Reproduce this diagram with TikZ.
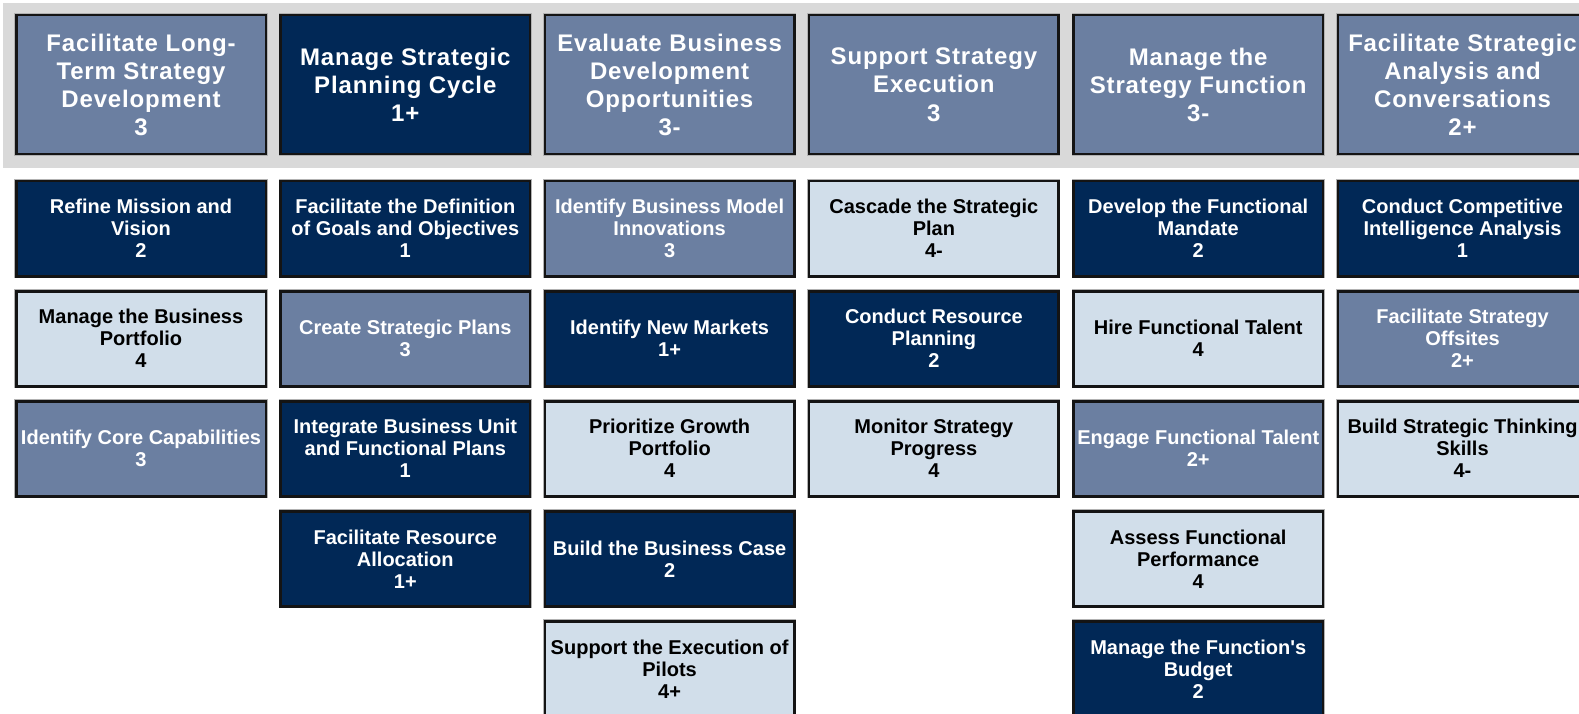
\documentclass[tikz,border=0pt]{standalone}
\usepackage{fontspec}
\setmainfont{Liberation Sans}
\newfontfamily\headfont{Liberation Sans}[LetterSpace=3.5]
\definecolor{navy}{HTML}{012856}
\definecolor{slate}{HTML}{6B7FA1}
\definecolor{pale}{HTML}{D1DEEA}
\definecolor{band}{HTML}{D9D9D9}
\tikzset{
  box/.style={rectangle, inner sep=0pt, align=center,
    minimum width=249.5pt, minimum height=95pt,
    draw=black!92, line width=2.5pt,
    preaction={draw=black!30, line width=3.6pt},
    font=\fontsize{20}{22}\selectfont\bfseries},
  head/.style={box, minimum height=139pt,
    font=\headfont\fontsize{24}{28.2}\selectfont\bfseries},
  dk/.style={fill=navy, text=white},
  md/.style={fill=slate, text=white},
  lt/.style={fill=pale, text=black},
}
\begin{document}
\begin{tikzpicture}[x=1pt, y=-1pt]
\useasboundingbox (0,0) rectangle (1579,714);
\clip (0,0) rectangle (1579,714);
\fill[white] (0,0) rectangle (1579,714);
% grey strip behind the column headings
\fill[band] (3.3,3.3) rectangle (1590,168);

% column headings
\node[head, md] (h1) at (141,84.75)    {Facilitate Long-\\Term Strategy\\Development\\3};
\node[head, dk] (h2) at (405.3,84.75)  {Manage Strategic\\Planning Cycle\\1+};
\node[head, md] (h3) at (669.6,84.75)  {Evaluate Business\\Development\\Opportunities\\3-};
\node[head, md] (h4) at (933.9,84.75)  {Support Strategy\\Execution\\3};
\node[head, md] (h5) at (1198.2,84.75) {Manage the\\Strategy Function\\3-};
\node[head, md] (h6) at (1462.5,84.75) {Facilitate Strategic\\Analysis and\\Conversations\\2+};

% column 1
\node[box, dk] (a1) at (141,228.75) {Refine Mission and\\Vision\\2};
\node[box, lt] (a2) at (141,338.75) {Manage the Business\\Portfolio\\4};
\node[box, md] (a3) at (141,448.75) {Identify Core Capabilities\\3};

% column 2
\node[box, dk] (b1) at (405.3,228.75) {Facilitate the Definition\\of Goals and Objectives\\1};
\node[box, md] (b2) at (405.3,338.75) {Create Strategic Plans\\3};
\node[box, dk] (b3) at (405.3,448.75) {Integrate Business Unit\\and Functional Plans\\1};
\node[box, dk] (b4) at (405.3,558.75) {Facilitate Resource\\Allocation\\1+};

% column 3
\node[box, md] (c1) at (669.6,228.75) {Identify Business Model\\Innovations\\3};
\node[box, dk] (c2) at (669.6,338.75) {Identify New Markets\\1+};
\node[box, lt] (c3) at (669.6,448.75) {Prioritize Growth\\Portfolio\\4};
\node[box, dk] (c4) at (669.6,558.75) {Build the Business Case\\2};
\node[box, lt] (c5) at (669.6,668.75) {Support the Execution of\\Pilots\\4+};

% column 4
\node[box, lt] (d1) at (933.9,228.75) {Cascade the Strategic\\Plan\\4-};
\node[box, dk] (d2) at (933.9,338.75) {Conduct Resource\\Planning\\2};
\node[box, lt] (d3) at (933.9,448.75) {Monitor Strategy\\Progress\\4};

% column 5
\node[box, dk] (e1) at (1198.2,228.75) {Develop the Functional\\Mandate\\2};
\node[box, lt] (e2) at (1198.2,338.75) {Hire Functional Talent\\4};
\node[box, md] (e3) at (1198.2,448.75) {Engage Functional Talent\\2+};
\node[box, lt] (e4) at (1198.2,558.75) {Assess Functional\\Performance\\4};
\node[box, dk] (e5) at (1198.2,668.75) {Manage the Function\textquotesingle s\\Budget\\2};

% column 6
\node[box, dk] (f1) at (1462.5,228.75) {Conduct Competitive\\Intelligence Analysis\\1};
\node[box, md] (f2) at (1462.5,338.75) {Facilitate Strategy\\Offsites\\2+};
\node[box, lt] (f3) at (1462.5,448.75) {Build Strategic Thinking\\Skills\\4-};
\end{tikzpicture}
\end{document}
